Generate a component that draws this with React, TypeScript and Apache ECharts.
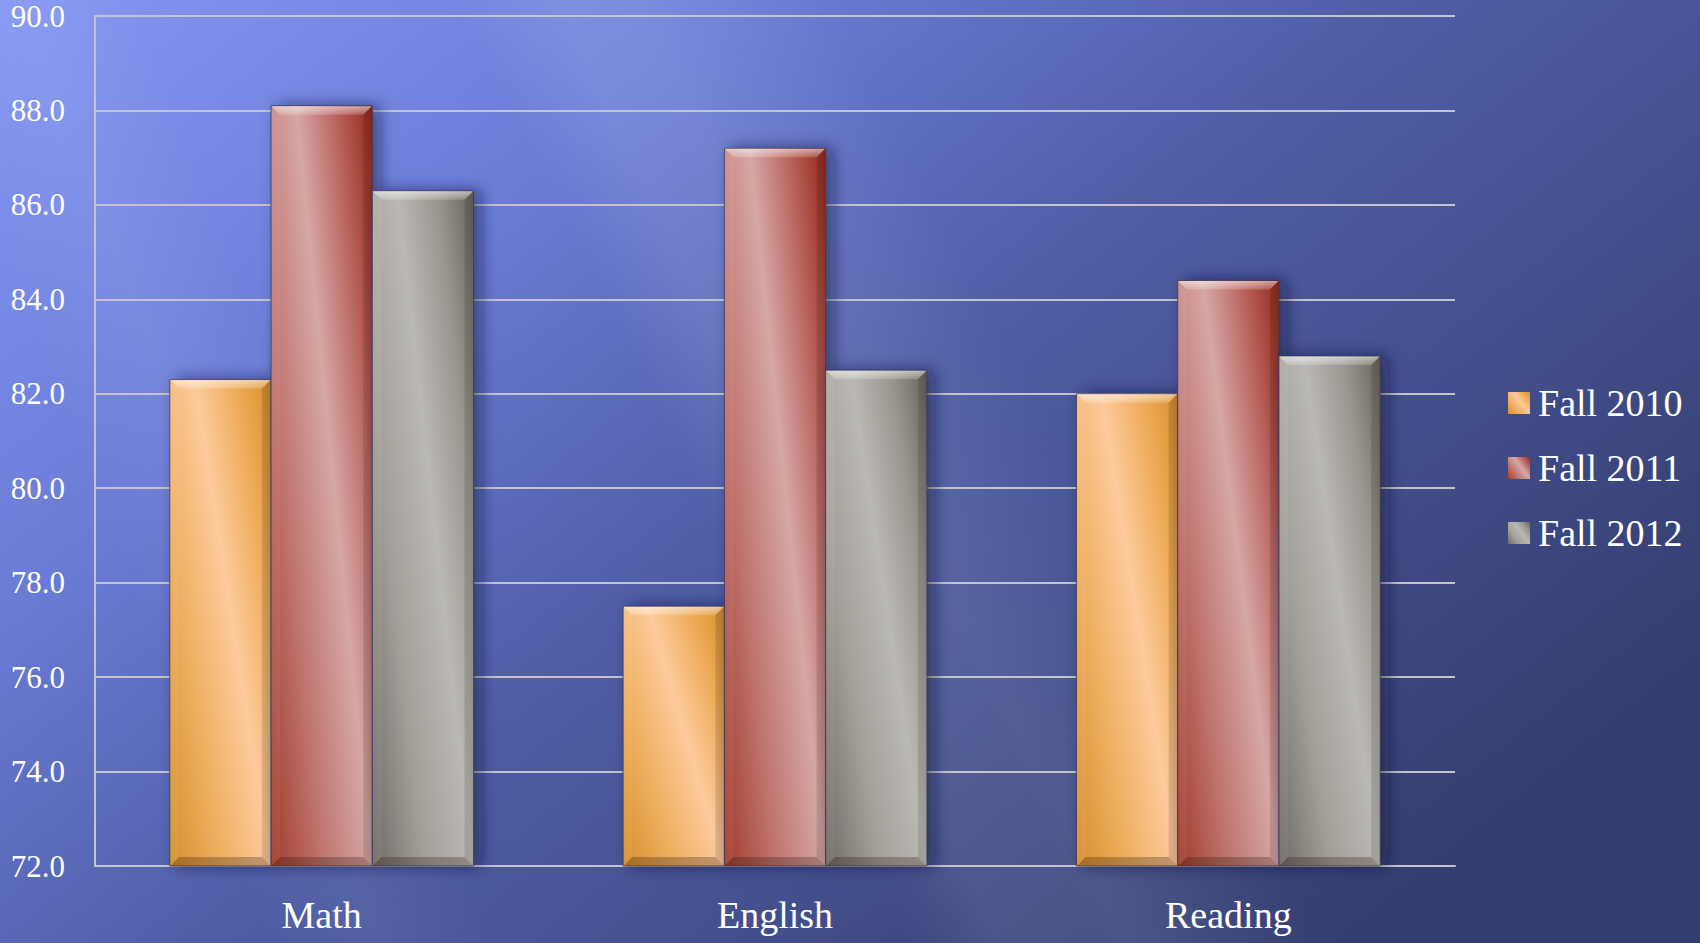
import React, { useEffect, useRef } from "react";
import * as echarts from "echarts";

const categories = ["Math", "English", "Reading"];
const seriesNames = ["Fall 2010", "Fall 2011", "Fall 2012"];
const fall2010 = [82.3, 77.5, 82.0];
const fall2011 = [88.1, 87.2, 84.4];
const fall2012 = [86.3, 82.5, 82.8];
const yMin = 72;
const yMax = 90;
const yStep = 2;

const seriesValues = [fall2010, fall2011, fall2012];

const palettes = [
  { dark1: "#d68f2c", mid1: "#efb062", light: "#fdca9c", mid2: "#eeab58", dark2: "#d98f2a" },
  { dark1: "#a13c2c", mid1: "#c07670", light: "#d6a7a5", mid2: "#b8615a", dark2: "#922817" },
  { dark1: "#6f6b64", mid1: "#a3a09a", light: "#bab8b3", mid2: "#98948d", dark2: "#66625a" },
];

const FONT = "'Liberation Serif', 'DejaVu Serif', serif";

function barGradient(p: any) {
  return new echarts.graphic.LinearGradient(0, 1, 1.12, 0.16, [
    { offset: 0, color: p.dark1 },
    { offset: 0.3, color: p.mid1 },
    { offset: 0.57, color: p.light },
    { offset: 0.8, color: p.mid2 },
    { offset: 1, color: p.dark2 },
  ]);
}

function streak(x0: number, x1: number, halfWidth: number, alpha: number) {
  // soft diagonal light streak from (x0, 0) to (x1, 943)
  const dx = x1 - x0;
  const dy = 943;
  const len = Math.sqrt(dx * dx + dy * dy);
  const px = dy / len;
  const py = -dx / len;
  const mx = (x0 + x1) / 2;
  const my = dy / 2;
  const ext = halfWidth * 1.2;
  return {
    type: "polygon",
    silent: true,
    z: -10,
    shape: {
      points: [
        [x0 - ext - 200, -200 * (dy / dx) * 0],
        [x0 + ext, 0],
        [x1 + ext + 50, 943],
        [x1 - ext - 250, 943],
      ],
    },
    style: {
      fill: new echarts.graphic.LinearGradient(
        mx - px * halfWidth,
        my - py * halfWidth,
        mx + px * halfWidth,
        my + py * halfWidth,
        [
          { offset: 0, color: "rgba(255,255,255,0)" },
          { offset: 0.5, color: `rgba(255,255,255,${alpha})` },
          { offset: 1, color: "rgba(255,255,255,0)" },
        ],
        true
      ),
    },
  };
}

export default function App() {
  const ref = useRef<HTMLDivElement>(null);
  useEffect(() => {
    if (!ref.current) return;
    const chart = echarts.init(ref.current, undefined, { renderer: "svg" });

    const renderItem = (params: any, api: any) => {
      const cat = api.value(0);
      const val = api.value(1);
      const top = api.coord([cat, val]);
      const base = api.coord([cat, yMin]);
      const band = api.size([1, 0])[0];
      const bw = (band * 0.67) / 3;
      const x = top[0] - 1.5 * bw + params.seriesIndex * bw;
      const y = top[1];
      const h = base[1] - top[1];
      const b = 9;
      const p = palettes[params.seriesIndex];
      return {
        type: "group",
        children: [
          {
            type: "rect",
            shape: { x, y, width: bw, height: h },
            style: {
              fill: barGradient(p),
              stroke: "rgba(55,50,85,0.75)",
              lineWidth: 1,
              shadowBlur: 16,
              shadowOffsetX: 7,
              shadowOffsetY: 0,
              shadowColor: "rgba(15,20,55,0.55)",
            },
          },
          {
            type: "polygon",
            shape: { points: [[x + 0.5, y + 0.5], [x + bw - 0.5, y + 0.5], [x + bw - b, y + b], [x + b, y + b]] },
            style: {
              fill: new echarts.graphic.LinearGradient(0, 0, 0, 1, [
                { offset: 0, color: "rgba(255,255,255,0.55)" },
                { offset: 1, color: "rgba(255,255,255,0.18)" },
              ]),
            },
          },
          {
            type: "polygon",
            shape: { points: [[x + 0.5, y + h], [x + b, y + h - b], [x + bw - b, y + h - b], [x + bw - 0.5, y + h]] },
            style: { fill: "rgba(40,20,10,0.28)" },
          },
          {
            type: "polygon",
            shape: { points: [[x + 0.5, y + 0.5], [x + b, y + b], [x + b, y + h - b], [x + 0.5, y + h]] },
            style: { fill: "rgba(255,255,255,0.06)" },
          },
          {
            type: "polygon",
            shape: { points: [[x + bw - 0.5, y + 0.5], [x + bw - b, y + b], [x + bw - b, y + h - b], [x + bw - 0.5, y + h]] },
            style: { fill: "rgba(0,0,0,0.12)" },
          },
        ],
      };
    };

    const series = seriesNames.map((name, i) => ({
      name,
      type: "custom",
      renderItem,
      itemStyle: { color: barGradient(palettes[i]) },
      encode: { x: 0, y: 1 },
      data: seriesValues[i].map((v, c) => [c, v]),
      z: 2 + i,
    }));

    chart.setOption({
      animation: false,
      backgroundColor: new echarts.graphic.LinearGradient(0, 0, 1, 0.7, [
        { offset: 0, color: "#8597f3" },
        { offset: 0.3, color: "#6a7cd6" },
        { offset: 0.55, color: "#4f5ea6" },
        { offset: 0.8, color: "#414c88" },
        { offset: 1, color: "#343e70" },
      ]),
      graphic: [
        streak(640, 1130, 170, 0.09),
        streak(560, 1000, 90, 0.05),
        streak(20, 380, 110, 0.05),
      ],
      grid: { left: 95, right: 245, top: 16, bottom: 77, containLabel: false },
      legend: {
        orient: "vertical",
        left: 1508,
        top: 384,
        padding: 0,
        itemWidth: 22,
        itemHeight: 22,
        itemGap: 27,
        icon: "rect",
        data: seriesNames,
        textStyle: { color: "#ffffff", fontFamily: FONT, fontSize: 38, lineHeight: 38, padding: [0, 0, 0, 3] },
      },
      xAxis: {
        type: "category",
        data: categories,
        axisLine: { show: true, lineStyle: { color: "#c4c4cc", width: 2 } },
        axisTick: { show: false },
        axisLabel: { color: "#ffffff", fontFamily: FONT, fontSize: 38, lineHeight: 38, margin: 30 },
        splitLine: { show: false },
      },
      yAxis: {
        type: "value",
        min: yMin,
        max: yMax,
        interval: yStep,
        axisLine: { show: true, lineStyle: { color: "#c4c4cc", width: 2 } },
        axisTick: { show: false },
        axisLabel: {
          color: "#ffffff",
          fontFamily: FONT,
          fontSize: 31,
          lineHeight: 28,
          margin: 30,
          formatter: (v: number) => v.toFixed(1),
        },
        splitLine: { show: true, lineStyle: { color: "#c4c4cc", width: 2 } },
      },
      series,
    });
    return () => chart.dispose();
  }, []);
  return <div ref={ref} style={{ position: "fixed", left: 0, top: 0, width: 1700, height: 943 }} />;
}
